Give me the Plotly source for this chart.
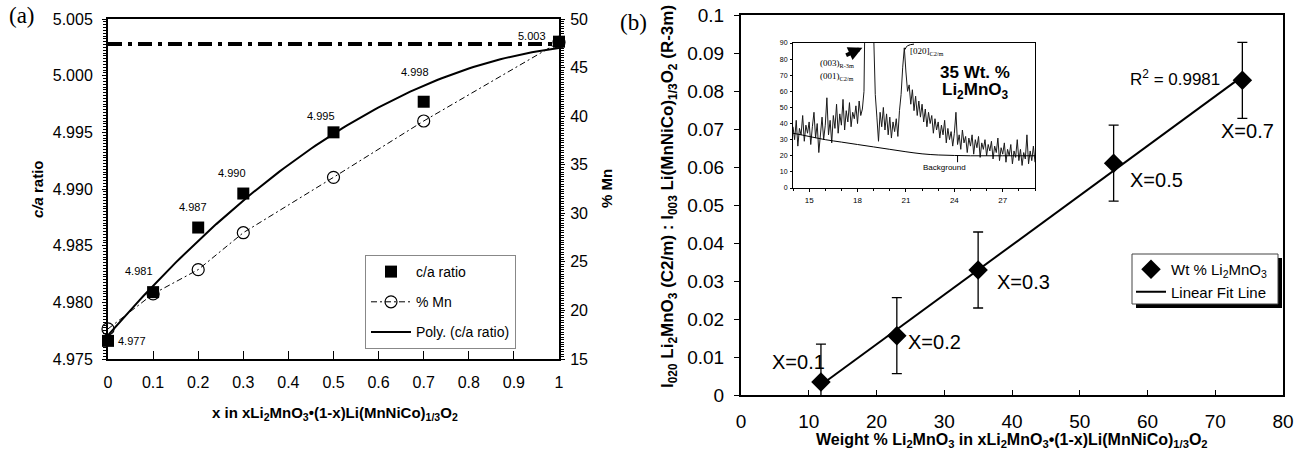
import numpy as np
import plotly.graph_objects as go

W, H = 1294, 455

# ---------------- panel (a) data ----------------
CA_X = [0, 0.1, 0.2, 0.3, 0.5, 0.7, 1.0]
CA_RATIO = [4.9766, 4.9809, 4.9866, 4.9896, 4.9950, 4.9977, 5.0030]
MN_PCT = [18.1, 21.7, 24.2, 28.0, 33.7, 39.5, 47.6]
CA_REF = 5.0028  # horizontal reference level

# ---------------- panel (b) data ----------------
WT_PCT = [11.8, 23.0, 35.0, 55.0, 74.0]
I_RATIO = [0.0034, 0.0156, 0.0329, 0.0610, 0.0828]
I_ERR = [0.01, 0.01, 0.01, 0.01, 0.01]
X_LABELS = ["X=0.1", "X=0.2", "X=0.3", "X=0.5", "X=0.7"]
R2_TEXT = "R<sup>2</sup> = 0.9981"

# ---------------- inset XRD pattern (35 wt% Li2MnO3) ----------------
TT_START, TT_STEP = 14.0, 0.1
XRD_COUNTS = [
    38, 30, 42, 26, 37, 33, 45, 29, 39, 34,
    41, 27, 38, 47, 31, 40, 22, 36, 44, 30,
    39, 56, 33, 42, 28, 45, 37, 52, 34, 46,
    39, 55, 36, 48, 41, 53, 38, 47, 43, 51,
    40, 54, 45, 49, 60, 140, 320, 420, 300, 170,
    95, 58, 44, 29, 47, 38, 50, 36, 46, 33,
    44, 31, 41, 35, 43, 32, 48, 58, 75, 87,
    72, 60, 64, 52, 61, 48, 57, 45, 54, 44,
    52, 41, 49, 38, 47, 40, 45, 34, 43, 36,
    41, 31, 39, 33, 42, 28, 37, 30, 35, 26,
    34, 47, 27, 33, 24, 36, 28, 32, 22, 31,
    26, 33, 21, 30, 25, 32, 19, 28, 24, 30,
    20, 27, 23, 29, 18, 26, 22, 31, 17, 25,
    21, 28, 16, 24, 20, 27, 15, 23, 19, 30,
    17, 24, 14, 22, 18, 33, 15, 23, 17, 26,
    16,
]
BG_2THETA = [14, 15, 16, 17, 18, 19, 20, 21, 22, 23, 24, 25, 26, 27, 28, 29]
BG_COUNTS = [34, 32, 30, 28.5, 27, 25.5, 24, 22.5, 21.2, 20.5, 20.2, 20, 20, 20, 20, 20]

two_theta = TT_START + TT_STEP * np.arange(len(XRD_COUNTS))

SANS = "Liberation Sans, Arial, sans-serif"
SERIF = "Liberation Serif, Times New Roman, serif"


def px(x):
    return x / W


def py(y):
    return 1 - y / H


fig = go.Figure()

# ----- panel (a) -----
fig.add_trace(go.Scatter(
    x=[CA_X[0], CA_X[-1]], y=[CA_REF, CA_REF], mode="lines",
    line=dict(color="black", width=4, dash="14px,6px,4px,6px"),
    showlegend=False, xaxis="x", yaxis="y", hoverinfo="skip"))

fit2 = np.polyfit(CA_X, CA_RATIO, 2)
xs = np.linspace(0, 1, 101)
fig.add_trace(go.Scatter(
    x=CA_X, y=CA_RATIO, mode="markers", name="c/a ratio",
    marker=dict(symbol="square", size=12, color="black"),
    cliponaxis=False, legend="legend", legendgroup="a1", xaxis="x", yaxis="y"))
fig.add_trace(go.Scatter(
    x=CA_X, y=MN_PCT, mode="lines+markers", name="% Mn",
    line=dict(color="black", width=1, dash="6px,3px,2px,3px"),
    marker=dict(symbol="circle-open", size=12, color="black",
                line=dict(width=1.2)),
    cliponaxis=False, legend="legend", legendgroup="a2", xaxis="x", yaxis="y2"))
fig.add_trace(go.Scatter(
    x=xs, y=np.polyval(fit2, xs), mode="lines", name="Poly. (c/a ratio)",
    line=dict(color="black", width=2),
    legend="legend", legendgroup="a3", xaxis="x", yaxis="y"))

# ----- panel (b) -----
fit1 = np.polyfit(WT_PCT, I_RATIO, 1)
xl = np.array([min(WT_PCT), max(WT_PCT)])
fig.add_trace(go.Scatter(
    x=WT_PCT, y=I_RATIO, mode="markers", name="Wt % Li<sub>2</sub>MnO<sub>3</sub>",
    marker=dict(symbol="diamond", size=15, color="black"),
    error_y=dict(type="data", array=I_ERR, visible=True, color="black",
                 thickness=1.3, width=5),
    cliponaxis=False, legend="legend2", xaxis="x3", yaxis="y3"))
fig.add_trace(go.Scatter(
    x=xl, y=np.polyval(fit1, xl), mode="lines", name="Linear Fit Line",
    line=dict(color="black", width=2), legend="legend2", xaxis="x3", yaxis="y3"))

# ----- inset -----
fig.add_trace(go.Scatter(
    x=two_theta, y=XRD_COUNTS, mode="lines",
    line=dict(color="#1a1a1a", width=1), showlegend=False,
    xaxis="x4", yaxis="y4", hoverinfo="skip"))
fig.add_trace(go.Scatter(
    x=BG_2THETA, y=BG_COUNTS, mode="lines", line=dict(color="black", width=1, shape="spline"),
    showlegend=False, xaxis="x4", yaxis="y4", hoverinfo="skip"))

annotations = []

# value labels next to c/a points
ca_shift = [(8, 0, "left"), (-14, 21, "center"), (-5, 21, "center"), (-11, 21, "center"),
            (-13, 16, "center"), (-9, 30, "center"), (-27, 6, "center")]
for xv, yv, (dx, dy, anc) in zip(CA_X, CA_RATIO, ca_shift):
    annotations.append(dict(x=xv, y=yv, xref="x", yref="y", text=f"{yv:.3f}",
                            showarrow=False, xshift=dx, yshift=dy, xanchor=anc,
                            font=dict(family=SANS, size=11, color="black")))

# composition labels on panel (b)
x_shift = [(-22, 20), (38, -6), (45, -12), (43, -17), (5, -51)]
for xv, yv, lab, (dx, dy) in zip(WT_PCT, I_RATIO, X_LABELS, x_shift):
    annotations.append(dict(x=xv, y=yv, xref="x3", yref="y3", text=lab,
                            showarrow=False, xshift=dx, yshift=dy,
                            font=dict(family=SANS, size=20, color="black")))
annotations.append(dict(x=WT_PCT[-1], y=I_RATIO[-1], xref="x3", yref="y3", text=R2_TEXT,
                        showarrow=False, xshift=-67, yshift=2,
                        font=dict(family=SANS, size=17, color="black")))


def paper_text(x, y, text, size, family=SANS, angle=0, xanchor="center"):
    return dict(x=px(x), y=py(y), xref="paper", yref="paper", text=text,
                textangle=angle, showarrow=False, xanchor=xanchor, yanchor="middle",
                font=dict(family=family, size=size, color="black"))


# axis titles and panel tags
annotations += [
    paper_text(37, 189, "<b><i>c/a</i> ratio</b>", 15, angle=-90),
    paper_text(606, 189, "<b>% Mn</b>", 15, angle=-90),
    paper_text(335, 413,
               "<b>x in xLi<sub>2</sub>MnO<sub>3</sub>•(1-x)Li(MnNiCo)<sub>1/3</sub>O<sub>2</sub></b>",
               15),
    paper_text(669, 197,
               "<b>I<sub>020</sub> Li<sub>2</sub>MnO<sub>3</sub> (C2/m) : I<sub>003</sub> "
               "Li(MnNiCo)<sub>1/3</sub>O<sub>2</sub> (R-3m)</b>", 17, angle=-90),
    paper_text(1012, 440,
               "<b>Weight % Li<sub>2</sub>MnO<sub>3</sub> in xLi<sub>2</sub>MnO<sub>3</sub>"
               "•(1-x)Li(MnNiCo)<sub>1/3</sub>O<sub>2</sub></b>", 16),
    paper_text(7, 16, "(a)", 23, family=SERIF, xanchor="left"),
    paper_text(649, 22, "(b)", 23, family=SERIF, xanchor="right"),
]

# inset text
annotations += [
    dict(x=16.7, y=77, xref="x4", yref="y4", text="(003)<sub>R-3m</sub>", showarrow=False,
         font=dict(family=SERIF, size=9, color="black")),
    dict(x=16.7, y=69, xref="x4", yref="y4", text="(001)<sub>C2/m</sub>", showarrow=False,
         font=dict(family=SERIF, size=9, color="black")),
    dict(x=18.3, y=87, ax=17.2, ay=82, xref="x4", yref="y4", axref="x4", ayref="y4",
         text="", showarrow=True, arrowhead=2, arrowsize=0.7, arrowwidth=4, arrowcolor="black"),
    dict(x=22.3, y=85, xref="x4", yref="y4", text="[020]<sub>C2/m</sub>", showarrow=False,
         font=dict(family=SERIF, size=9, color="black")),
    dict(x=25.3, y=72, xref="x4", yref="y4", text="<b>35 Wt. %</b>", showarrow=False,
         font=dict(family=SANS, size=17, color="black")),
    dict(x=25.3, y=60, xref="x4", yref="y4", text="<b>Li<sub>2</sub>MnO<sub>3</sub></b>",
         showarrow=False, font=dict(family=SANS, size=17, color="black")),
    dict(x=23.4, y=13, xref="x4", yref="y4", text="Background", showarrow=False,
         font=dict(family=SANS, size=8, color="black")),
    dict(x=21.9, y=-20, xref="x4", yref="y4", text="<b>2 theta / degree</b>", showarrow=False,
         font=dict(family=SANS, size=7, color="black")),
    dict(x=12.9, y=45, xref="x4", yref="y4", text="Counts", showarrow=False, textangle=-90,
         font=dict(family=SANS, size=7, color="black")),
]

# box of the panel (b) legend with its drop shadow
LG2_BOX = (1132, 254, 1278, 304)
shapes = [
    dict(type="line", xref="x4", yref="y4", x0=24.2, x1=24.2, y0=16, y1=20.3,
         line=dict(color="black", width=1)),
    dict(type="path", xref="x4", yref="y4", path="M 20.95,86 Q 21.0,89 21.5,89.3",
         line=dict(color="black", width=1)),
    dict(type="rect", xref="paper", yref="paper",
         x0=px(LG2_BOX[0] + 4), x1=px(LG2_BOX[2] + 4),
         y0=py(LG2_BOX[3] + 4), y1=py(LG2_BOX[1] + 4),
         fillcolor="black", line=dict(width=0), layer="above"),
    dict(type="rect", xref="paper", yref="paper",
         x0=px(LG2_BOX[0]), x1=px(LG2_BOX[2]),
         y0=py(LG2_BOX[3]), y1=py(LG2_BOX[1]),
         fillcolor="white", line=dict(color="#444", width=1), layer="above"),
]

axis_common = dict(showline=True, linecolor="black", showgrid=False, zeroline=False,
                   tickcolor="black")

fig.update_layout(
    width=W, height=H, margin=dict(l=0, r=0, t=0, b=0, autoexpand=False),
    paper_bgcolor="white", plot_bgcolor="white",
    font=dict(family=SANS, color="black"),
    xaxis=dict(domain=[px(108), px(559)], range=[0, 1], dtick=0.1, ticks="inside",
               ticklen=8, linewidth=2, mirror=True, anchor="y",
               tickfont=dict(size=16), ticklabelstandoff=8, **axis_common),
    yaxis=dict(domain=[py(359), py(19)], range=[4.975, 5.005], dtick=0.005, tickformat=".3f",
               ticks="outside", ticklen=4, linewidth=2, anchor="x",
               minor=dict(dtick=0.00025, ticks="outside", ticklen=3, tickcolor="black"),
               tickfont=dict(size=16), ticklabelstandoff=6, **axis_common),
    yaxis2=dict(range=[15, 50], dtick=5, overlaying="y", side="right", anchor="x",
                ticks="outside", ticklen=4, linewidth=2,
                minor=dict(dtick=0.25, ticks="outside", ticklen=3, tickcolor="black"),
                tickfont=dict(size=16), ticklabelstandoff=2, **axis_common),
    xaxis3=dict(domain=[px(741), px(1283)], range=[0, 80], dtick=10, ticks="inside",
                ticklen=5, linewidth=2, mirror=True, anchor="y3",
                tickfont=dict(size=19), ticklabelstandoff=8, **axis_common),
    yaxis3=dict(domain=[py(395), py(15)], range=[0, 0.1], dtick=0.01, ticks="outside",
                ticklen=5, linewidth=2, mirror=True, anchor="x3",
                tickfont=dict(size=19), ticklabelstandoff=6, **axis_common),
    yaxis5=dict(range=[0, 0.1], overlaying="y3", side="right", anchor="x3",
                showticklabels=False, ticks="inside", ticklen=3, dtick=0.0005,
                showline=False, showgrid=False, zeroline=False, tickcolor="black"),
    xaxis4=dict(domain=[px(793), px(1035)], range=[14, 29], dtick=3, ticks="outside",
                ticklen=3, linewidth=1, mirror=True, anchor="y4",
                minor=dict(dtick=1, ticks="outside", ticklen=2, tickcolor="black"),
                tickfont=dict(size=8), ticklabelstandoff=1, **axis_common),
    yaxis4=dict(domain=[py(188), py(43)], range=[0, 90], dtick=10, ticks="outside",
                ticklen=2, linewidth=1, mirror=True, anchor="x4",
                tickfont=dict(size=7), ticklabelstandoff=1, **axis_common),
    legend=dict(x=px(365), y=py(255), xanchor="left", yanchor="top",
                bordercolor="#888", borderwidth=1, bgcolor="white",
                font=dict(family=SANS, size=14, color="black"), tracegroupgap=9,
                itemwidth=40),
    legend2=dict(x=px(1131), y=py(253), xanchor="left", yanchor="top",
                 borderwidth=0, bgcolor="rgba(0,0,0,0)",
                 font=dict(family=SANS, size=15, color="black"), tracegroupgap=0,
                 itemwidth=30),
    annotations=annotations,
    shapes=shapes,
    showlegend=True,
)

fig.write_html("out.html")
